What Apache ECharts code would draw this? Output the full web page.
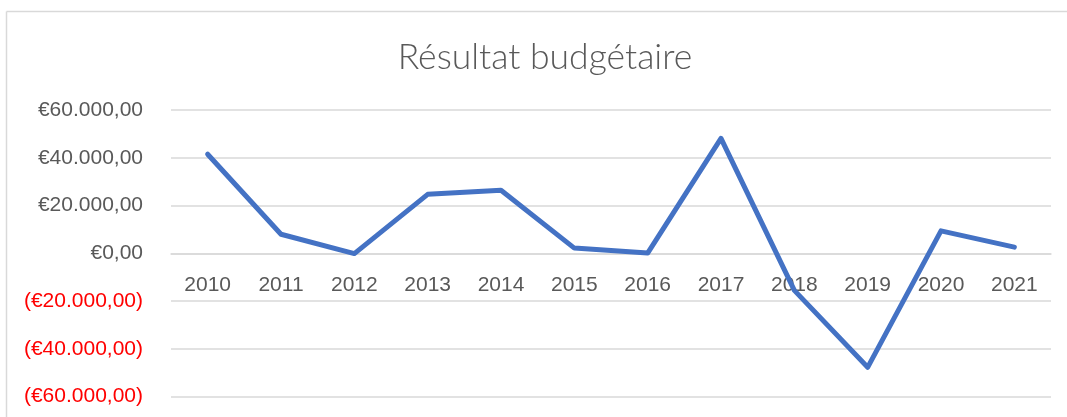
<!DOCTYPE html>
<html>
<head>
<meta charset="utf-8">
<script src="https://cdn.jsdelivr.net/npm/echarts@6/dist/echarts.min.js"></script>
<style>
html,body{margin:0;padding:0;background:#fff;}
#c{width:1067px;height:417px;}
</style>
</head>
<body>
<div id="c"></div>
<script>
var categories = ['2010','2011','2012','2013','2014','2015','2016','2017','2018','2019','2020','2021'];
var resultat = [41500, 8000, -100, 24700, 26400, 2200, 100, 48100, -15500, -47700, 9400, 2600];
var yTicks = { min: -60000, max: 60000, interval: 20000 };
var titleText = 'Résultat budgétaire';

function fmtEuro(v) {
  var a = Math.abs(v);
  var intPart = Math.floor(a).toString().replace(/\B(?=(\d{3})+(?!\d))/g, '.');
  var s = '€' + intPart + ',00';
  return v < 0 ? '{neg|(' + s + ')}' : '{pos|' + s + '}';
}

var gridTop = 110, gridBottom = 20.3, H = 417;
var zeroOffset = -((H - gridTop - gridBottom) * (0 - yTicks.min) / (yTicks.max - yTicks.min));

var chart = echarts.init(document.getElementById('c'), null, {renderer: 'canvas'});
chart.setOption({
  animation: false,
  backgroundColor: '#fff',
  title: {
    text: titleText,
    left: 540,
    textAlign: 'center',
    top: 35,
    textStyle: { fontFamily: 'Lato', fontWeight: 300, fontSize: 35.5, color: '#595959' }
  },
  graphic: [
    { type: 'line', silent: true, shape: { x1: 6.5, y1: 11.5, x2: 1067, y2: 11.5 }, style: { stroke: '#d9d9d9', lineWidth: 1.5 } },
    { type: 'line', silent: true, shape: { x1: 6.5, y1: 11.5, x2: 6.5, y2: 417 }, style: { stroke: '#d9d9d9', lineWidth: 1.5 } }
  ],
  grid: { left: 171, right: 16, top: gridTop, bottom: gridBottom, containLabel: false, outerBoundsMode: 'none' },
  xAxis: {
    type: 'category',
    data: categories,
    boundaryGap: true,
    position: 'bottom',
    offset: zeroOffset,
    axisLine: { show: true, onZero: false, lineStyle: { color: '#d9d9d9', width: 1.5 } },
    axisTick: { show: false },
    axisLabel: { margin: 21, fontFamily: 'Liberation Sans', fontSize: 21, color: '#595959' }
  },
  yAxis: {
    type: 'value',
    min: yTicks.min, max: yTicks.max, interval: yTicks.interval,
    axisLine: { show: false },
    axisTick: { show: false },
    splitLine: { lineStyle: { color: '#d9d9d9', width: 1.5 } },
    axisLabel: {
      margin: 28,
      formatter: fmtEuro,
      rich: {
        pos: { fontFamily: 'Liberation Sans', fontSize: 21, color: '#595959' },
        neg: { fontFamily: 'Liberation Sans', fontSize: 21, color: '#ff0000' }
      }
    }
  },
  series: [{
    type: 'line',
    data: resultat,
    showSymbol: false,
    symbol: 'none',
    lineStyle: { color: '#4472c4', width: 5, cap: 'round', join: 'round' },
    z: 3
  }]
});
</script>
</body>
</html>
